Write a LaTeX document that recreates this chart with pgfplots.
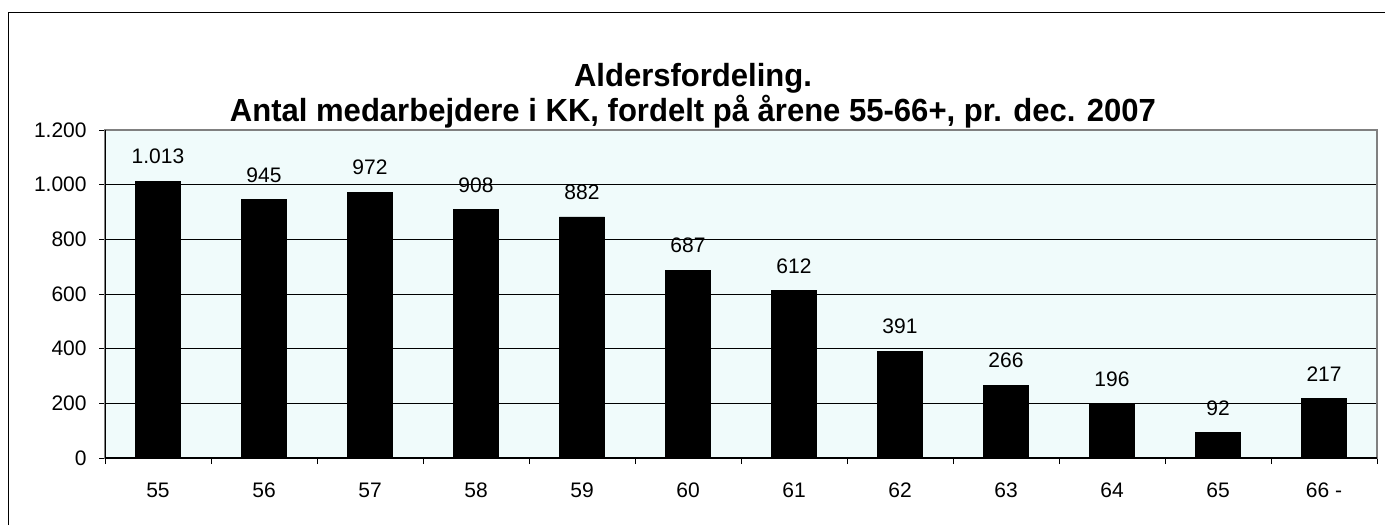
\documentclass[border=0pt]{standalone}
\usepackage{fontspec}
\setmainfont{Liberation Sans}
\newfontfamily\titlefont{Liberation Sans}[FakeStretch=0.97]
\usepackage{pgfplots}
\pgfplotsset{compat=1.18}
\definecolor{plotbg}{RGB}{240,251,251}

\begin{document}
\begin{tikzpicture}[x=1pt,y=1pt]
\useasboundingbox (0,0) rectangle (692.5,262.5);
\draw[line width=0.6pt] (4.2,0) -- (4.2,256.3) -- (692.5,256.3);
\node[font=\titlefont\fontsize{16}{15}\selectfont\bfseries, align=center] at (346.5,214.5)
  {Aldersfordeling.\\Antal medarbejdere i KK, fordelt på årene 55-66+, pr. dec. 2007};
\begin{axis}[
  at={(52.5pt,33.5pt)}, anchor=south west,
  scale only axis, width=636pt, height=164pt,
  ybar, bar width=0.425,
  xmin=-0.5, xmax=11.5, ymin=0, ymax=1200,
  xtick={0,...,11},
  xticklabels={55,56,57,58,59,60,61,62,63,64,65,66 -},
  minor xtick={-0.5,0.5,...,11.5},
  ytick={0,200,...,1200},
  tick align=outside, xtick pos=bottom, ytick pos=left,
  major tick length=3pt, minor tick length=3pt,
  major x tick style={draw=none},
  tick style={black, line width=0.5pt},
  ymajorgrids, major grid style={black, line width=0.5pt},
  axis background/.style={fill=plotbg},
  axis line style={draw=gray, line width=0.6pt},
  /pgf/number format/1000 sep={.},
  /pgf/number format/assume math mode=true,
  ticklabel style={font=\fontsize{10.5}{12}\selectfont},
  yticklabel style={anchor=east, inner sep=0pt, xshift=-6pt},
  xticklabel style={anchor=base, inner sep=0pt, yshift=-16.5pt},
  nodes near coords,
  nodes near coords style={font=\fontsize{10.5}{12}\selectfont, anchor=base, inner sep=0pt, yshift=8.8pt},
]
\addplot[fill=black, draw=black] coordinates {
  (0,1013) (1,945) (2,972) (3,908) (4,882) (5,687)
  (6,612) (7,391) (8,266) (9,196) (10,92) (11,217)
};
\draw[black, line width=0.6pt] (rel axis cs:0,1) -- (rel axis cs:0,0) -- (rel axis cs:1,0);
\end{axis}
\end{tikzpicture}
\end{document}
